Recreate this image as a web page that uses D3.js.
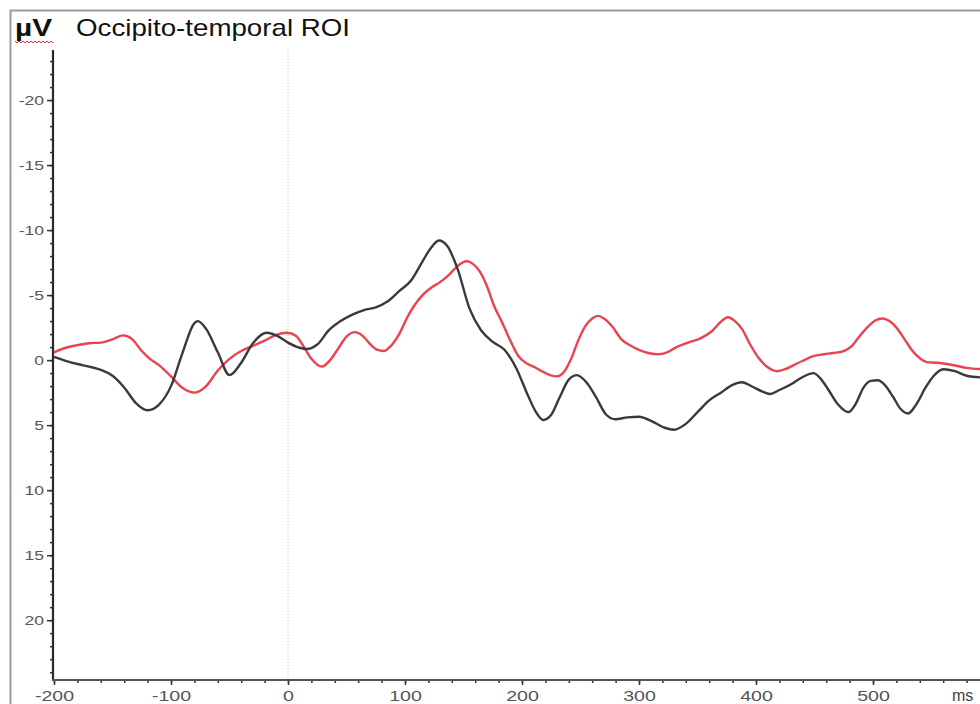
<!DOCTYPE html>
<html>
<head>
<meta charset="utf-8">
<script src="https://cdn.jsdelivr.net/npm/d3@7"></script>
<style>
  html, body { margin: 0; padding: 0; background: #fff; overflow: hidden; }
  svg { display: block; font-family: "Liberation Sans", Arial, sans-serif; }
</style>
</head>
<body>
<svg id="chart" width="980" height="704"></svg>
<script>
// ---- data ----
const chartTitle = "Occipito-temporal ROI";
const yUnit = "µV";
const xUnit = "ms";
const xTickValues = [-200, -100, 0, 100, 200, 300, 400, 500];
const yTickValues = [-20, -15, -10, -5, 0, 5, 10, 15, 20];

const blackTimes = [-200,-190,-180,-170,-160,-150,-140,-130,-120,-110,-100,-90,-80,-77,-70,-60,-50,-40,-30,-18,-10,0,10,16,25,35,45,55,65,75,85,95,105,115,122,129,136,145,155,165,175,185,195,205,212,218,225,232,240,247,255,263,272,280,290,300,312,322,330,340,350,360,370,380,388,397,405,412,420,430,440,449,455,462,470,479,485,492,498,504,510,517,524,530,537,545,552,560,570,580,595];
const blackValues = [-0.25,0.05,0.3,0.5,0.75,1.2,2.1,3.3,3.85,3.4,2.0,-0.6,-2.85,-3.0,-2.4,-0.6,1.15,0.2,-1.3,-2.1,-1.9,-1.35,-0.95,-0.85,-1.2,-2.3,-3.0,-3.5,-3.85,-4.05,-4.5,-5.3,-6.1,-7.6,-8.6,-9.2,-8.8,-7.0,-4.0,-2.3,-1.4,-0.8,0.6,2.7,4.0,4.6,4.2,2.9,1.5,1.15,1.7,2.8,4.2,4.55,4.4,4.35,4.75,5.2,5.35,4.9,4.0,3.1,2.5,1.9,1.7,2.05,2.4,2.6,2.3,1.85,1.3,1.0,1.4,2.3,3.4,4.0,3.4,2.1,1.6,1.55,1.9,2.8,3.8,4.1,3.4,2.1,1.2,0.7,0.85,1.2,1.35];

const redTimes = [-200,-190,-180,-170,-160,-150,-141,-133,-125,-118,-110,-100,-90,-80,-70,-60,-50,-40,-30,-20,-10,-1,7,13,20,29,36,43,50,57,64,70,76,82,88,95,102,108,115,122,130,138,145,153,158,164,170,176,183,190,197,204,211,218,224,230,236,242,248,254,260,265,270,277,285,293,301,308,316,324,332,342,352,362,370,376,382,388,395,402,410,418,425,432,440,449,458,466,475,482,489,496,502,508,514,520,527,533,538,546,555,563,572,580,595];
const redValues = [-0.6,-0.95,-1.15,-1.3,-1.35,-1.6,-1.9,-1.6,-0.7,-0.1,0.4,1.25,2.15,2.5,2.0,0.8,-0.1,-0.7,-1.1,-1.5,-1.95,-2.1,-1.85,-1.1,-0.1,0.5,0.0,-0.9,-1.8,-2.15,-1.85,-1.25,-0.8,-0.7,-1.1,-2.0,-3.3,-4.2,-5.0,-5.55,-6.0,-6.6,-7.25,-7.6,-7.4,-6.8,-5.7,-4.2,-2.9,-1.5,-0.3,0.25,0.55,0.9,1.15,1.25,0.9,-0.1,-1.5,-2.6,-3.2,-3.4,-3.2,-2.6,-1.6,-1.1,-0.75,-0.55,-0.45,-0.6,-1.0,-1.35,-1.65,-2.2,-2.95,-3.3,-3.0,-2.4,-1.2,-0.2,0.55,0.85,0.7,0.4,0.05,-0.3,-0.45,-0.55,-0.7,-1.1,-1.9,-2.6,-3.05,-3.2,-3.0,-2.5,-1.6,-0.8,-0.3,0.15,0.2,0.3,0.45,0.6,0.7];

// ---- drawing ----
const svg = d3.select("#chart");

const x = d3.scaleLinear().domain([-200, 600]).range([54, 990]);
const y = d3.scaleLinear().domain([-23.85, 24.6]).range([50, 680]);
const fmt = d => String(d);
const stretch = function() {
  const w = this.getComputedTextLength();
  d3.select(this).attr("textLength", w * 1.4).attr("lengthAdjust", "spacingAndGlyphs");
};

// outer frame
svg.append("rect")
  .attr("x", 10.5).attr("y", 10.5)
  .attr("width", 1100).attr("height", 1100)
  .attr("fill", "none").attr("stroke", "#9c9c9c").attr("stroke-width", 2);

// title
svg.append("text")
  .attr("x", 15).attr("y", 36)
  .attr("font-size", 24).attr("font-weight", "bold").attr("fill", "#111")
  .attr("textLength", 37).attr("lengthAdjust", "spacingAndGlyphs")
  .text(yUnit);
// spell-check style squiggle under the unit
const sq = d3.path();
sq.moveTo(15, 41);
for (let i = 0; i < 19; i++) sq.lineTo(17 + i * 2, i % 2 === 0 ? 43 : 41);
svg.append("path").attr("d", sq.toString()).attr("fill", "none")
  .attr("stroke", "#e03030").attr("stroke-width", 1);

svg.append("text")
  .attr("x", 76).attr("y", 36)
  .attr("font-size", 24).attr("fill", "#111")
  .attr("textLength", 274).attr("lengthAdjust", "spacingAndGlyphs")
  .text(chartTitle);

// zero-time dotted line
svg.append("line")
  .attr("x1", x(0)).attr("x2", x(0))
  .attr("y1", 50).attr("y2", y.range()[1])
  .attr("stroke", "#b8b8b8").attr("stroke-width", 1)
  .attr("stroke-dasharray", "1,2");

// y axis: minor ticks
const yMinor = d3.range(-23, 25);
const gyMinor = svg.append("g").attr("transform", "translate(53,0)")
  .call(d3.axisLeft(y).tickValues(yMinor).tickSize(3).tickFormat(""));
gyMinor.select(".domain").remove();
gyMinor.selectAll(".tick line").attr("stroke", "#333").attr("stroke-width", 1.5);

const gy = svg.append("g").attr("transform", "translate(53,0)")
  .call(d3.axisLeft(y).tickValues(yTickValues).tickSize(6).tickPadding(3).tickFormat(fmt));
gy.select(".domain").remove();
gy.selectAll(".tick line").attr("stroke", "#333").attr("stroke-width", 1.5);
gy.selectAll(".tick text")
  .attr("font-size", 12.5).attr("fill", "#555")
  .attr("font-family", "'Liberation Sans', Arial, sans-serif")
  .each(stretch);
svg.append("line").attr("x1", 53).attr("x2", 53).attr("y1", 50).attr("y2", 681)
  .attr("stroke", "#2a2a2a").attr("stroke-width", 2.2);

// x axis
const xMinor = d3.range(-200, 601, 20);
const gxMinor = svg.append("g").attr("transform", "translate(0,680)")
  .call(d3.axisBottom(x).tickValues(xMinor).tickSize(3).tickFormat(""));
gxMinor.select(".domain").remove();
gxMinor.selectAll(".tick line").attr("stroke", "#333").attr("stroke-width", 1.5);

const gx = svg.append("g").attr("transform", "translate(0,680)")
  .call(d3.axisBottom(x).tickValues(xTickValues).tickSize(5).tickFormat(fmt));
gx.select(".domain").remove();
gx.selectAll(".tick line").attr("stroke", "#333").attr("stroke-width", 1.5);
gx.selectAll(".tick text")
  .attr("y", 21).attr("dy", null)
  .attr("font-size", 14).attr("fill", "#555")
  .attr("font-family", "'Liberation Sans', Arial, sans-serif")
  .each(stretch);
svg.append("line").attr("x1", 52).attr("x2", 980).attr("y1", 680).attr("y2", 680)
  .attr("stroke", "#555").attr("stroke-width", 2.2);

svg.append("text")
  .attr("x", 952).attr("y", 701)
  .attr("font-size", 16).attr("fill", "#444")
  .text(xUnit);

// curves
const line = d3.line()
  .x(d => x(d[0]))
  .y(d => y(d[1]))
  .curve(d3.curveMonotoneX);

const blackData = d3.zip(blackTimes, blackValues);
const redData = d3.zip(redTimes, redValues);

svg.append("path").datum(redData)
  .attr("d", line).attr("fill", "none")
  .attr("stroke", "#e8434f").attr("stroke-width", 2.4)
  .attr("stroke-linejoin", "round");

svg.append("path").datum(blackData)
  .attr("d", line).attr("fill", "none")
  .attr("stroke", "#3a3a3a").attr("stroke-width", 2.4)
  .attr("stroke-linejoin", "round");
</script>
</body>
</html>
